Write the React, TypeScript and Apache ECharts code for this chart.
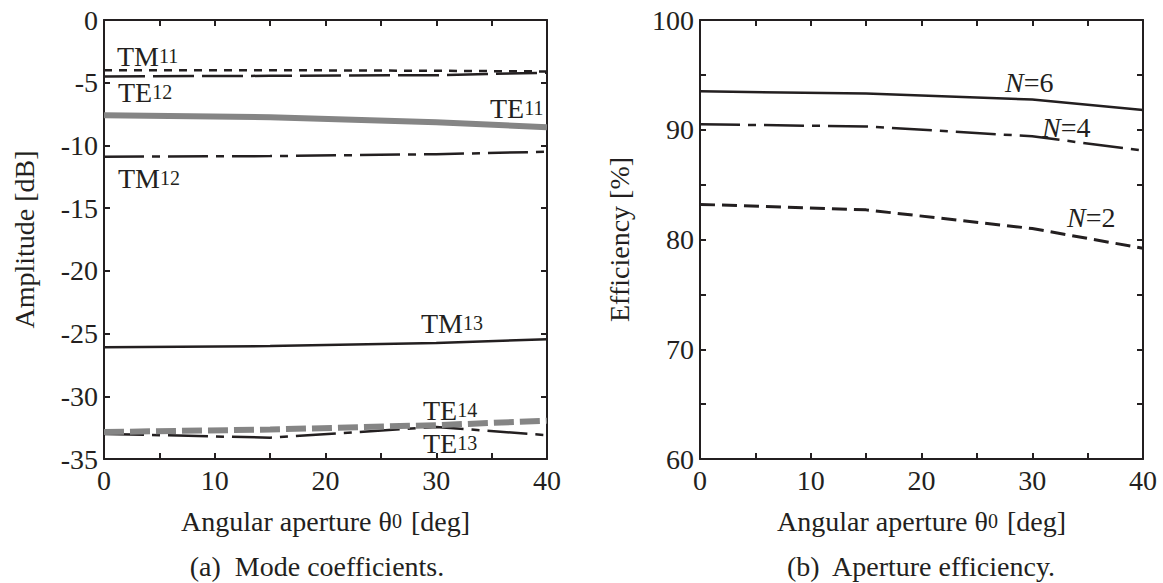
import React, { useEffect, useRef } from 'react';
import * as echarts from 'echarts';

const angles = [0, 15, 30, 40];
// (a) Mode coefficients [dB]
const tm11 = [-4.0, -4.0, -4.05, -4.1];
const te12 = [-4.5, -4.45, -4.4, -4.2];
const te11 = [-7.6, -7.75, -8.15, -8.55];
const tm12 = [-10.9, -10.85, -10.7, -10.5];
const tm13 = [-26.1, -26.0, -25.75, -25.45];
const te14 = [-32.85, -32.65, -32.3, -31.95];
const te13 = [-33.0, -33.3, -32.45, -33.1];
// (b) Aperture efficiency [%]
const n6 = [93.5, 93.3, 92.75, 91.8];
const n4 = [90.5, 90.3, 89.4, 88.1];
const n2 = [83.2, 82.7, 81.0, 79.2];

const xTicks = [0, 10, 20, 30, 40];
const yTicksA = [0, -5, -10, -15, -20, -25, -30, -35];
const yTicksB = [60, 70, 80, 90, 100];

const FONT = "'Liberation Serif', 'Times New Roman', 'DejaVu Serif', serif";
const INK = '#231f20';
const GRAY = '#858585';
const FS = 28;
const SFS = 20;

const pts = (ys: number[]) => angles.map((a, i) => [a, ys[i]]);

export default function App() {
  const ref = useRef<HTMLDivElement>(null);
  useEffect(() => {
    if (!ref.current) return;
    const chart = echarts.init(ref.current, undefined, { renderer: 'svg' });

    const axisLine = { show: true, onZero: false, lineStyle: { color: INK, width: 2 } };
    const axisTick = { show: true, inside: true, length: 6, lineStyle: { color: INK, width: 2 } };
    const labelStyle = { fontFamily: FONT, fontSize: FS, color: INK };
    const nameStyle = {
      fontFamily: FONT, fontSize: FS, color: INK,
      rich: { s: { fontFamily: FONT, fontSize: SFS, color: INK, padding: [0, 2, 0, 0] } },
    };

    const mkX = (grid: number, main: boolean) => ({
      type: 'value', gridIndex: grid, min: xTicks[0], max: xTicks[xTicks.length - 1], interval: 5,
      position: main ? 'bottom' : 'top',
      axisLine, axisTick, splitLine: { show: false },
      axisLabel: main
        ? { ...labelStyle, margin: 7, formatter: (v: number) => (xTicks.includes(v) ? String(v) : '') }
        : { show: false },
      name: main ? 'Angular aperture θ{s|0} [deg]' : '',
      nameLocation: 'middle', nameGap: 48, nameTextStyle: nameStyle,
    });
    const mkY = (grid: number, main: boolean, ticks: number[], name: string, gap: number) => ({
      type: 'value', gridIndex: grid, min: Math.min(...ticks), max: Math.max(...ticks), interval: 5,
      position: main ? 'left' : 'right',
      axisLine, axisTick, splitLine: { show: false },
      axisLabel: main
        ? { ...labelStyle, margin: 6, formatter: (v: number) => (ticks.includes(v) ? String(v) : '') }
        : { show: false },
      name: main ? name : '',
      nameLocation: 'middle', nameGap: gap, nameTextStyle: nameStyle,
    });

    const line = (name: string, data: number[], xi: number, yi: number, color: string, width: number, dash: any) => ({
      name, type: 'line', xAxisIndex: xi, yAxisIndex: yi, data: pts(data),
      showSymbol: false, symbol: 'none',
      lineStyle: { color, width, type: dash, cap: 'butt' },
    });

    const dashDot = [40, 8, 8, 8];

    const lab = (x: number, y: number, main: string, sub: string, italic = false) => ({
      type: 'text', x, y,
      style: {
        text: italic ? `{i|${main}}{a|${sub}}` : `{a|${main}}{b|${sub}}`,
        verticalAlign: 'middle', align: 'left',
        rich: {
          a: { fontFamily: FONT, fontSize: FS, fill: INK },
          b: { fontFamily: FONT, fontSize: SFS, fill: INK },
          i: { fontFamily: FONT, fontSize: FS, fill: INK, fontStyle: 'italic' },
        },
      },
    });
    const caption = (x: number, y: number, text: string) => ({
      type: 'text', x, y,
      style: { text, fontFamily: FONT, fontSize: FS, fill: INK, align: 'center', verticalAlign: 'middle' },
    });

    chart.setOption({
      animation: false,
      backgroundColor: '#ffffff',
      grid: [
        { left: 104, top: 20, width: 443, height: 439 },
        { left: 700, top: 20, width: 443, height: 439 },
      ],
      xAxis: [mkX(0, true), mkX(0, false), mkX(1, true), mkX(1, false)],
      yAxis: [
        mkY(0, true, yTicksA, 'Amplitude [dB]', 66),
        mkY(0, false, yTicksA, '', 0),
        mkY(1, true, yTicksB, 'Efficiency [%]', 67),
        mkY(1, false, yTicksB, '', 0),
      ],
      series: [
        line('TM11', tm11, 0, 0, INK, 2.5, [8, 7]),
        line('TE12', te12, 0, 0, INK, 2.5, [41, 8]),
        line('TE11', te11, 0, 0, GRAY, 6, 'solid'),
        line('TM12', tm12, 0, 0, INK, 2.5, dashDot),
        line('TM13', tm13, 0, 0, INK, 2.5, 'solid'),
        line('TE13', te13, 0, 0, INK, 2.5, dashDot),
        line('TE14', te14, 0, 0, GRAY, 6, [20, 6]),
        line('N=6', n6, 2, 2, INK, 2.5, 'solid'),
        line('N=4', n4, 2, 2, INK, 2.5, dashDot),
        line('N=2', n2, 2, 2, INK, 3, [15, 7]),
      ],
      graphic: [
        lab(117, 56, 'TM', '11'),
        lab(118, 92, 'TE', '12'),
        lab(490, 108, 'TE', '11'),
        lab(118, 178, 'TM', '12'),
        lab(421, 323, 'TM', '13'),
        lab(423, 410, 'TE', '14'),
        lab(423, 443, 'TE', '13'),
        lab(1005, 82, 'N', '=6', true),
        lab(1042, 127, 'N', '=4', true),
        lab(1067, 217, 'N', '=2', true),
        caption(317, 566, '(a)  Mode coefficients.'),
        caption(921, 566, '(b)  Aperture efficiency.'),
      ],
    });
    return () => chart.dispose();
  }, []);
  return <div ref={ref} style={{ width: 1163, height: 583, position: 'absolute', left: 0, top: 0 }} />;
}
